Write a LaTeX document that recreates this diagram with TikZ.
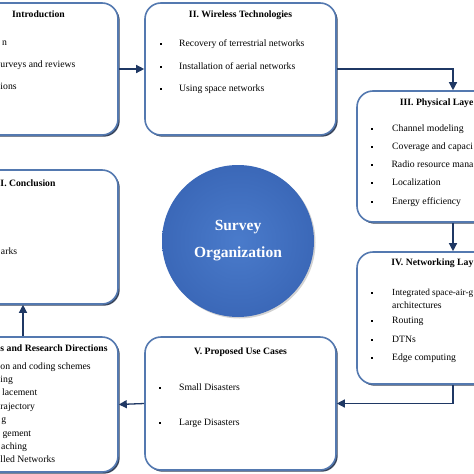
\documentclass[tikz,border=0pt]{standalone}
\usepackage{fontspec}
\setmainfont{Liberation Serif}
\usetikzlibrary{arrows.meta,shadows}
\definecolor{navy}{HTML}{1F3864}
\definecolor{boxline}{HTML}{5479B0}
\definecolor{boxshade}{HTML}{22304A}
\definecolor{circin}{HTML}{4A7BCB}
\definecolor{circout}{HTML}{3B68B8}
\begin{document}
\begin{tikzpicture}[x=1pt,y=-1pt,
  box/.style={draw=boxline, line width=1.6pt, rounded corners=16pt, fill=white, inner sep=0pt,
     drop shadow={shadow xshift=1.7pt, shadow yshift=-1.7pt, opacity=0.9, fill=boxshade}},
  ttl/.style={font=\fontsize{9.7}{11}\selectfont\bfseries, inner sep=0pt, text height=7pt, text depth=2pt},
  itm/.style={font=\fontsize{9.7}{11}\selectfont, inner sep=0pt, text height=7pt, text depth=2pt},
  bul/.style={fill=black, inner sep=0pt, minimum size=2.6pt},
  arr/.style={draw=navy, line width=1.3pt, -{Triangle[length=8pt,width=8pt]}}]
\useasboundingbox (0,0) rectangle (474,474);
\clip (0,0) rectangle (474,474);
\fill[white] (0,0) rectangle (474,474);

% Box 1
\node[box, minimum width=190pt, minimum height=132pt] (b1) at (23,69) {};
\node[ttl, anchor=west] (b1t) at (12,15) {Introduction};
\node[itm, anchor=west] (b1a) at (2,43) {n};
\node[itm, anchor=west] (b1b) at (0.3,65) {urveys and reviews};
\node[itm, anchor=west] (b1c) at (0.3,87) {ions};

% Box 2
\node[box, minimum width=191pt, minimum height=132pt] (b2) at (240.5,69) {};
\node[ttl] (b2t) at (240.5,15) {II. Wireless Technologies};
\node[bul] (b2p1) at (161,44) {};
\node[bul] (b2p2) at (161,67) {};
\node[bul] (b2p3) at (161,89) {};
\node[itm, anchor=west] (b2a) at (179,44) {Recovery of terrestrial networks};
\node[itm, anchor=west] (b2b) at (179,67) {Installation of aerial networks};
\node[itm, anchor=west] (b2c) at (179,89) {Using space networks};

% Box 3
\node[box, minimum width=192pt, minimum height=131pt] (b3) at (453,156.5) {};
\node[ttl, anchor=east] (b3t) at (473.6,103) {III. Physical Laye};
\node[bul] (b3p1) at (372,129) {};
\node[bul] (b3p2) at (372,147) {};
\node[bul] (b3p3) at (372,165) {};
\node[bul] (b3p4) at (372,183) {};
\node[bul] (b3p5) at (372,202) {};
\node[itm, anchor=west] (b3a) at (392,129) {Channel modeling};
\node[itm, anchor=west] (b3b) at (392,147) {Coverage and capaci};
\node[itm, anchor=east] (b3c) at (473.6,165) {Radio resource mana};
\node[itm, anchor=west] (b3d) at (392,183) {Localization};
\node[itm, anchor=west] (b3e) at (392,202) {Energy efficiency};

% Box 4
\node[box, minimum width=192pt, minimum height=132pt] (b4) at (453,318) {};
\node[ttl, anchor=east] (b4t) at (473.6,263) {IV. Networking Lay};
\node[bul] (b4p1) at (372,293) {};
\node[bul] (b4p2) at (372,321) {};
\node[bul] (b4p3) at (372,340) {};
\node[bul] (b4p4) at (372,358) {};
\node[itm, anchor=west, font=\fontsize{9.3}{11}\selectfont] (b4a) at (392,293) {Integrated space-air-g};
\node[itm, anchor=west] (b4a2) at (392,306) {architectures};
\node[itm, anchor=west] (b4b) at (392,321) {Routing};
\node[itm, anchor=west] (b4c) at (392,340) {DTNs};
\node[itm, anchor=west] (b4d) at (392,358) {Edge computing};

% Box 5
\node[box, minimum width=191pt, minimum height=133pt] (b5) at (240.5,403.5) {};
\node[ttl] (b5t) at (240.5,352) {V. Proposed Use Cases};
\node[bul] (b5p1) at (160,388) {};
\node[bul] (b5p2) at (160,423) {};
\node[itm, anchor=west] (b5a) at (179,388) {Small Disasters};
\node[itm, anchor=west] (b5b) at (179,423) {Large Disasters};

% Box 6
\node[box, minimum width=190pt, minimum height=135pt] (b6) at (23,404.5) {};
\node[ttl, anchor=west] (b6t) at (0.3,349) {s and Research Directions};
\node[itm, anchor=west] (b6a) at (0.3,367) {on and coding schemes};
\node[itm, anchor=west] (b6b) at (0.3,380) {ing};
\node[itm, anchor=west] (b6c) at (2,393) {lacement};
\node[itm, anchor=west] (b6d) at (0.3,407) {rajectory};
\node[itm, anchor=west] (b6e) at (1.2,420) {g};
\node[itm, anchor=west] (b6f) at (2.4,434) {gement};
\node[itm, anchor=west] (b6g) at (1,447) {aching};
\node[itm, anchor=west] (b6h) at (0.3,460) {lled Networks};

% Box 7
\node[box, minimum width=190pt, minimum height=134pt] (b7) at (23,237) {};
\node[ttl, anchor=west] (b7t) at (0.3,184) {I. Conclusion};
\node[itm, anchor=west] (b7a) at (0.8,252) {arks};

% Centre
\node[circle, minimum size=152pt, inner sep=0pt, shading=radial, inner color=circin, outer color=circout,
      drop shadow={shadow xshift=1.5pt, shadow yshift=-1.5pt, opacity=0.35},
      font=\fontsize{15.5}{27}\selectfont\bfseries, text=white, align=center] (c) at (238,241) {Survey\\Organization};

% Connectors
\draw[arr] (b1.east) -- (b2.west);
\draw[arr] (b2.east) -| (b3.north);
\draw[arr] (b3.south) -- (b4.north);
\draw[arr] (b4.south) |- (b5.east);
\draw[arr] (b5.west) -- (b6.east);
\draw[arr] (b6.north) -- (b7.south);
\end{tikzpicture}
\end{document}
